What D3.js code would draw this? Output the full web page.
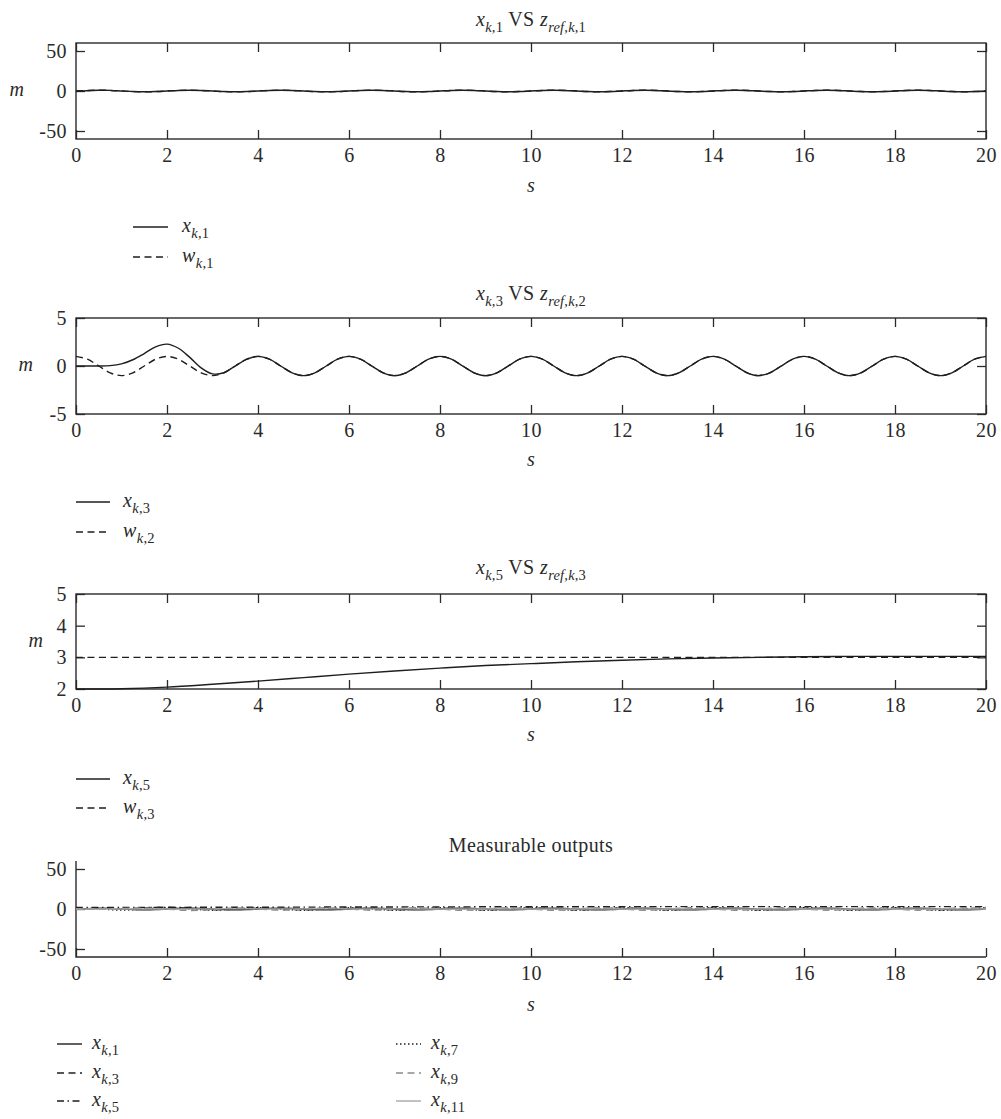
<!DOCTYPE html>
<html>
<head>
<meta charset="utf-8">
<script src="https://cdn.jsdelivr.net/npm/d3@7"></script>
<style>
body { margin: 0; background: #fff; }
text { font-family: "Liberation Serif", "Times New Roman", serif; fill: #2a2a2a; font-size: 20px; letter-spacing: 0.4px; }
</style>
</head>
<body>
<svg id="chart" width="1001" height="1119"></svg>
<script>
// sample times
const t025 = [
  0, 0.25, 0.5, 0.75, 1, 1.25, 1.5, 1.75,
  2, 2.25, 2.5, 2.75, 3, 3.25, 3.5, 3.75,
  4, 4.25, 4.5, 4.75, 5, 5.25, 5.5, 5.75,
  6, 6.25, 6.5, 6.75, 7, 7.25, 7.5, 7.75,
  8, 8.25, 8.5, 8.75, 9, 9.25, 9.5, 9.75,
  10, 10.25, 10.5, 10.75, 11, 11.25, 11.5, 11.75,
  12, 12.25, 12.5, 12.75, 13, 13.25, 13.5, 13.75,
  14, 14.25, 14.5, 14.75, 15, 15.25, 15.5, 15.75,
  16, 16.25, 16.5, 16.75, 17, 17.25, 17.5, 17.75,
  18, 18.25, 18.5, 18.75, 19, 19.25, 19.5, 19.75,
  20
];
const t05 = [
  0, 0.5, 1, 1.5, 2, 2.5, 3, 3.5, 4, 4.5, 5, 5.5, 6, 6.5, 7, 7.5, 8, 8.5, 9, 9.5,
  10, 10.5, 11, 11.5, 12, 12.5, 13, 13.5, 14, 14.5, 15, 15.5, 16, 16.5, 17, 17.5,
  18, 18.5, 19, 19.5, 20
];
const t1 = [0, 1, 2, 3, 4, 5, 6, 7, 8, 9, 10, 11, 12, 13, 14, 15, 16, 17, 18, 19, 20];

// panel 1
const xk1 = [
  0, 0.35, 0.85, 0.78, 0.05, -0.68, -1, -0.71,
  0, 0.71, 1, 0.71, 0, -0.71, -1, -0.71,
  0, 0.71, 1, 0.71, 0, -0.71, -1, -0.71,
  0, 0.71, 1, 0.71, 0, -0.71, -1, -0.71,
  0, 0.71, 1, 0.71, 0, -0.71, -1, -0.71,
  0, 0.71, 1, 0.71, 0, -0.71, -1, -0.71,
  0, 0.71, 1, 0.71, 0, -0.71, -1, -0.71,
  0, 0.71, 1, 0.71, 0, -0.71, -1, -0.71,
  0, 0.71, 1, 0.71, 0, -0.71, -1, -0.71,
  0, 0.71, 1, 0.71, 0, -0.71, -1, -0.71,
  0
];
const wk1 = [
  0, 0.71, 1, 0.71, 0, -0.71, -1, -0.71,
  0, 0.71, 1, 0.71, 0, -0.71, -1, -0.71,
  0, 0.71, 1, 0.71, 0, -0.71, -1, -0.71,
  0, 0.71, 1, 0.71, 0, -0.71, -1, -0.71,
  0, 0.71, 1, 0.71, 0, -0.71, -1, -0.71,
  0, 0.71, 1, 0.71, 0, -0.71, -1, -0.71,
  0, 0.71, 1, 0.71, 0, -0.71, -1, -0.71,
  0, 0.71, 1, 0.71, 0, -0.71, -1, -0.71,
  0, 0.71, 1, 0.71, 0, -0.71, -1, -0.71,
  0, 0.71, 1, 0.71, 0, -0.71, -1, -0.71,
  0
];

// panel 2
const xk3 = [
  0, 0, 0, 0.04, 0.22, 0.65, 1.3, 2.0,
  2.28, 1.85, 0.9, -0.2, -0.82, -0.7, 0, 0.7,
  1, 0.71, 0, -0.71, -1, -0.71, 0, 0.71,
  1, 0.71, 0, -0.71, -1, -0.71, 0, 0.71,
  1, 0.71, 0, -0.71, -1, -0.71, 0, 0.71,
  1, 0.71, 0, -0.71, -1, -0.71, 0, 0.71,
  1, 0.71, 0, -0.71, -1, -0.71, 0, 0.71,
  1, 0.71, 0, -0.71, -1, -0.71, 0, 0.71,
  1, 0.71, 0, -0.71, -1, -0.71, 0, 0.71,
  1, 0.71, 0, -0.71, -1, -0.71, 0, 0.71,
  1
];
const wk2 = [
  1, 0.71, 0, -0.71, -1, -0.71, 0, 0.71,
  1, 0.71, 0, -0.71, -1, -0.71, 0, 0.71,
  1, 0.71, 0, -0.71, -1, -0.71, 0, 0.71,
  1, 0.71, 0, -0.71, -1, -0.71, 0, 0.71,
  1, 0.71, 0, -0.71, -1, -0.71, 0, 0.71,
  1, 0.71, 0, -0.71, -1, -0.71, 0, 0.71,
  1, 0.71, 0, -0.71, -1, -0.71, 0, 0.71,
  1, 0.71, 0, -0.71, -1, -0.71, 0, 0.71,
  1, 0.71, 0, -0.71, -1, -0.71, 0, 0.71,
  1, 0.71, 0, -0.71, -1, -0.71, 0, 0.71,
  1
];

// panel 3
const xk5 = [2.0, 2.01, 2.06, 2.15, 2.25, 2.36, 2.47, 2.57, 2.66, 2.74, 2.8,
             2.86, 2.91, 2.95, 2.98, 3.0, 3.02, 3.03, 3.03, 3.03, 3.03];
const wk3 = [3, 3, 3, 3, 3, 3, 3, 3, 3, 3, 3, 3, 3, 3, 3, 3, 3, 3, 3, 3, 3];

// panel 4 (other measurable outputs)
const xk7 = [0.3, 0.1, -1.4, 0, 1.5, 0, -1.5, 0, 1.5, 0, -1.5, 0, 1.5, 0, -1.5, 0, 1.5, 0, -1.5, 0,
             1.5, 0, -1.5, 0, 1.5, 0, -1.5, 0, 1.5, 0, -1.5, 0, 1.5, 0, -1.5, 0, 1.5, 0, -1.5, 0, 1.5];
const xk9 = [0, 0, 0.6, 1.3, -0.2, -1.8, -0.6, 1.4, 0.1, -1.5, 0, 1.5, 0, -1.5, 0, 1.5, 0, -1.5, 0, 1.5,
             0, -1.5, 0, 1.5, 0, -1.5, 0, 1.5, 0, -1.5, 0, 1.5, 0, -1.5, 0, 1.5, 0, -1.5, 0, 1.5, 0];
const xk11 = [0, 0.02, 0.04, 0.06, 0.08, 0.09, 0.1, 0.11, 0.11, 0.11, 0.11, 0.11, 0.1, 0.1, 0.1, 0.09,
              0.09, 0.08, 0.07, 0.07, 0.06, 0.05, 0.05, 0.04, 0.03, 0.03, 0.02, 0.02, 0.01, 0.01, 0,
              0, 0, -0.01, -0.01, 0, 0, 0, 0, 0, 0];

const xTicks = [0, 2, 4, 6, 8, 10, 12, 14, 16, 18, 20];
const yTicks1 = [-50, 0, 50];
const yTicks2 = [-5, 0, 5];
const yTicks3 = [2, 3, 4, 5];
const yTicks4 = [-50, 0, 50];

const zip = (ts, vs) => ts.map((t, i) => ({ t: t, v: vs[i] }));

const styles = {
  solid: { stroke: "#1e1e1e", dash: null },
  dashed: { stroke: "#1e1e1e", dash: "7,4.5" },
  dashdot: { stroke: "#1e1e1e", dash: "7,3.5,1.5,3.5" },
  dotted: { stroke: "#1e1e1e", dash: "1.5,2.5" },
  grayDashed: { stroke: "#8a8a8a", dash: "7,4.5" },
  graySolid: { stroke: "#a8a8a8", dash: null }
};

// label pieces: [text, kind] kind: i = italic, s = subscript, si = italic subscript, n = normal
const lbl = (letter, sub) => [[letter, "i"], ["k", "si"], ["," + sub, "s"]];

const panels = [
  {
    top: 43, bottom: 139, yDomain: [-60, 60], yTicks: yTicks1, box: true,
    titleY: 26, title: [["x", "i"], ["k", "si"], [",1", "s"], [" VS ", "n"], ["z", "i"], ["ref,k", "si"], [",1", "s"]],
    mX: 17, sY: 192,
    series: [
      { data: zip(t025, xk1), style: "solid", label: lbl("x", "1") },
      { data: zip(t025, wk1), style: "dashed", label: lbl("w", "1") }
    ],
    legend: { x0: 133, x1: 168, tx: 182, ys: [227, 257], cols: 1 }
  },
  {
    top: 318, bottom: 414, yDomain: [-5, 5], yTicks: yTicks2, box: true,
    titleY: 300, title: [["x", "i"], ["k", "si"], [",3", "s"], [" VS ", "n"], ["z", "i"], ["ref,k", "si"], [",2", "s"]],
    mX: 26, sY: 466,
    series: [
      { data: zip(t025, xk3), style: "solid", label: lbl("x", "3") },
      { data: zip(t025, wk2), style: "dashed", label: lbl("w", "2") }
    ],
    legend: { x0: 76, x1: 110, tx: 123, ys: [502, 532], cols: 1 }
  },
  {
    top: 594, bottom: 689, yDomain: [2, 5], yTicks: yTicks3, box: true,
    titleY: 574, title: [["x", "i"], ["k", "si"], [",5", "s"], [" VS ", "n"], ["z", "i"], ["ref,k", "si"], [",3", "s"]],
    mX: 36, sY: 741,
    series: [
      { data: zip(t1, xk5), style: "solid", label: lbl("x", "5") },
      { data: zip(t1, wk3), style: "dashed", label: lbl("w", "3") }
    ],
    legend: { x0: 76, x1: 110, tx: 123, ys: [779, 808], cols: 1 }
  },
  {
    top: 861, bottom: 957, yDomain: [-60, 60], yTicks: yTicks4, box: false,
    titleY: 852, title: [["Measurable outputs", "n"]],
    mX: null, sY: 1011,
    series: [
      { data: zip(t025, xk1), style: "solid", label: lbl("x", "1") },
      { data: zip(t025, xk3), style: "dashed", label: lbl("x", "3") },
      { data: zip(t1, xk5), style: "dashdot", label: lbl("x", "5") },
      { data: zip(t05, xk7), style: "dotted", label: lbl("x", "7") },
      { data: zip(t05, xk9), style: "grayDashed", label: lbl("x", "9") },
      { data: zip(t05, xk11), style: "graySolid", label: lbl("x", "11") }
    ],
    legend: { x0: 57, x1: 82, tx: 92, ys: [1044, 1073, 1101], cols: 2, colShift: 339 }
  }
];

const svg = d3.select("#chart");
const x = d3.scaleLinear().domain([0, 20]).range([76, 986]);

function mathText(g, px, py, anchor, parts) {
  const txt = g.append("text").attr("x", px).attr("y", py).attr("text-anchor", anchor);
  let shifted = false;
  parts.forEach(([s, kind]) => {
    const isSub = kind === "s" || kind === "si";
    const sp = txt.append("tspan").text(s);
    if (isSub && !shifted) { sp.attr("dy", 5.5); shifted = true; }
    if (!isSub && shifted) { sp.attr("dy", -5.5); shifted = false; }
    if (isSub) sp.style("font-size", "14.5px").style("letter-spacing", "0.2px");
    if (kind === "i" || kind === "si") sp.style("font-style", "italic");
  });
  return txt;
}

function styleAxis(a) {
  a.select(".domain").remove();
  a.selectAll(".tick line").attr("stroke", "#2a2a2a").attr("stroke-width", 1.3);
  a.attr("font-family", null).attr("font-size", null);
}

panels.forEach(p => {
  const y = d3.scaleLinear().domain(p.yDomain).range([p.bottom, p.top]);
  const g = svg.append("g");

  g.append("g").attr("transform", `translate(0,${p.bottom})`)
    .call(d3.axisBottom(x).tickValues(xTicks).tickFormat(d => d).tickSizeInner(-9).tickSizeOuter(0).tickPadding(9))
    .call(styleAxis);
  g.append("g").attr("transform", `translate(${x(0)},0)`)
    .call(d3.axisLeft(y).tickValues(p.yTicks).tickFormat(d => d).tickSizeInner(-9).tickSizeOuter(0).tickPadding(9))
    .call(styleAxis);

  if (p.box) {
    g.append("g").attr("transform", `translate(0,${p.top})`)
      .call(d3.axisTop(x).tickValues(xTicks).tickFormat("").tickSizeInner(-9).tickSizeOuter(0))
      .call(styleAxis);
    g.append("g").attr("transform", `translate(${x(20)},0)`)
      .call(d3.axisRight(y).tickValues(p.yTicks).tickFormat("").tickSizeInner(-9).tickSizeOuter(0))
      .call(styleAxis);
    g.append("rect")
      .attr("x", x(0)).attr("y", p.top)
      .attr("width", x(20) - x(0)).attr("height", p.bottom - p.top)
      .attr("fill", "none").attr("stroke", "#2a2a2a").attr("stroke-width", 1.4);
  } else {
    g.append("path")
      .attr("d", `M${x(0)},${p.top}V${p.bottom}H${x(20)}`)
      .attr("fill", "none").attr("stroke", "#2a2a2a").attr("stroke-width", 1.4);
  }

  const line = d3.line().x(d => x(d.t)).y(d => y(d.v)).curve(d3.curveCatmullRom.alpha(0.5));
  p.series.forEach(s => {
    const st = styles[s.style];
    g.append("path")
      .datum(s.data)
      .attr("d", line)
      .attr("fill", "none")
      .attr("stroke", st.stroke)
      .attr("stroke-width", 1.4)
      .attr("stroke-dasharray", st.dash);
  });

  // title, axis labels
  mathText(g, 531, p.titleY, "middle", p.title);
  g.append("text").attr("x", 531).attr("y", p.sY).attr("text-anchor", "middle")
    .style("font-style", "italic").text("s");
  if (p.mX !== null) {
    g.append("text").attr("x", p.mX).attr("y", (p.top + p.bottom) / 2 + 5)
      .attr("text-anchor", "middle").style("font-style", "italic").text("m");
  }

  // legend
  const lg = p.legend;
  const perCol = lg.cols === 2 ? 3 : p.series.length;
  p.series.forEach((s, i) => {
    const col = Math.floor(i / perCol);
    const row = i % perCol;
    const dx = col * (lg.colShift || 0);
    const ly = lg.ys[row];
    const st = styles[s.style];
    g.append("line")
      .attr("x1", lg.x0 + dx).attr("x2", lg.x1 + dx)
      .attr("y1", ly).attr("y2", ly)
      .attr("stroke", st.stroke).attr("stroke-width", 1.4)
      .attr("stroke-dasharray", st.dash);
    mathText(g, lg.tx + dx, ly + 5, "start", s.label);
  });
});
</script>
</body>
</html>
